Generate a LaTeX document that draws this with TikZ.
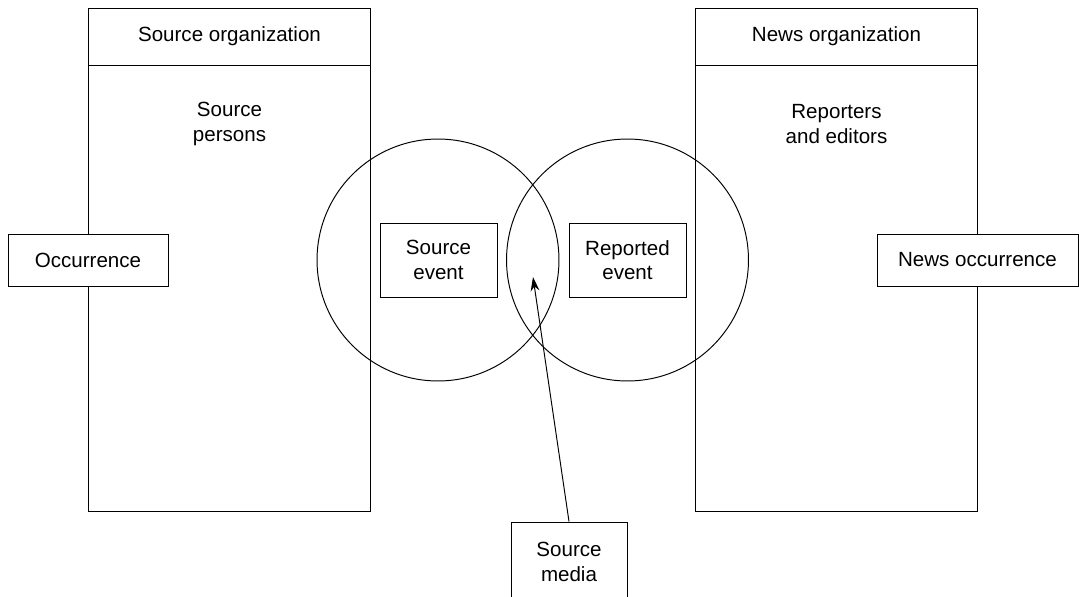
\documentclass[tikz,border=0pt]{standalone}
\usepackage{fontspec}
\setmainfont{Liberation Sans}
\usetikzlibrary{positioning}
\usetikzlibrary{arrows.meta}

\begin{document}
\begin{tikzpicture}[
    x=0.02cm, y=-0.02cm,
    line width=0.55pt,
    font=\fontsize{11.7}{14}\selectfont
]
\tikzset{
    orghead/.style = {rectangle, draw=black, minimum width=5.66cm, minimum height=1.14cm, inner sep=0pt},
    orgbody/.style = {rectangle, draw=black, minimum width=5.66cm, minimum height=8.94cm, inner sep=0pt},
    myevent/.style = {rectangle, draw=black, fill=white, align=center, minimum width=2.34cm, minimum height=1.48cm, inner sep=0pt},
    myocc/.style = {rectangle, draw=black, fill=white, align=center, minimum height=1.04cm, inner sep=0pt},
    mycirc/.style = {circle, draw=black, minimum size=4.84cm, inner sep=0pt},
    edger/.style = {-{Stealth[length=8pt,width=5pt]}}
}
\useasboundingbox (0,0) rectangle (1079,596);
% organizations
\node[orgbody] at (229.5,288.5) (srcbody) {};
\node[orghead] at (229.5,36.5) (srcorg) {\raisebox{-2pt}{Source organization}};
\node[align=center] at (229.5,124) (srcpers) {Source\\persons};
\node[orgbody] at (836.5,288.5) (newsbody) {};
\node[orghead] at (836.5,36.5) (newsorg) {\raisebox{-2pt}{News organization}};
\node[align=center] at (836.5,124) (reporters) {Reporters\\and editors};
% occurrences
\node[myocc, minimum width=3.2cm] at (88,260) (occ) {Occurrence};
\node[myocc, minimum width=4.02cm] at (977.5,260) (newsocc) {News occurrence};
% the two events
\node[mycirc] at (438,260) (srccirc) {};
\node[mycirc] at (627.5,260) (repcirc) {};
\node[myevent] at (438.5,260) (srcevent) {Source\\event};
\node[myevent] at (627.5,260) (repevent) {Reported\\event};
% media
\node[myevent, minimum width=2.32cm, minimum height=1.6cm] at (569,562) (media) {Source\\media};
\coordinate (overlap) at (533,277);
\draw[edger] (media.north) -- (overlap);
\end{tikzpicture}
\end{document}
